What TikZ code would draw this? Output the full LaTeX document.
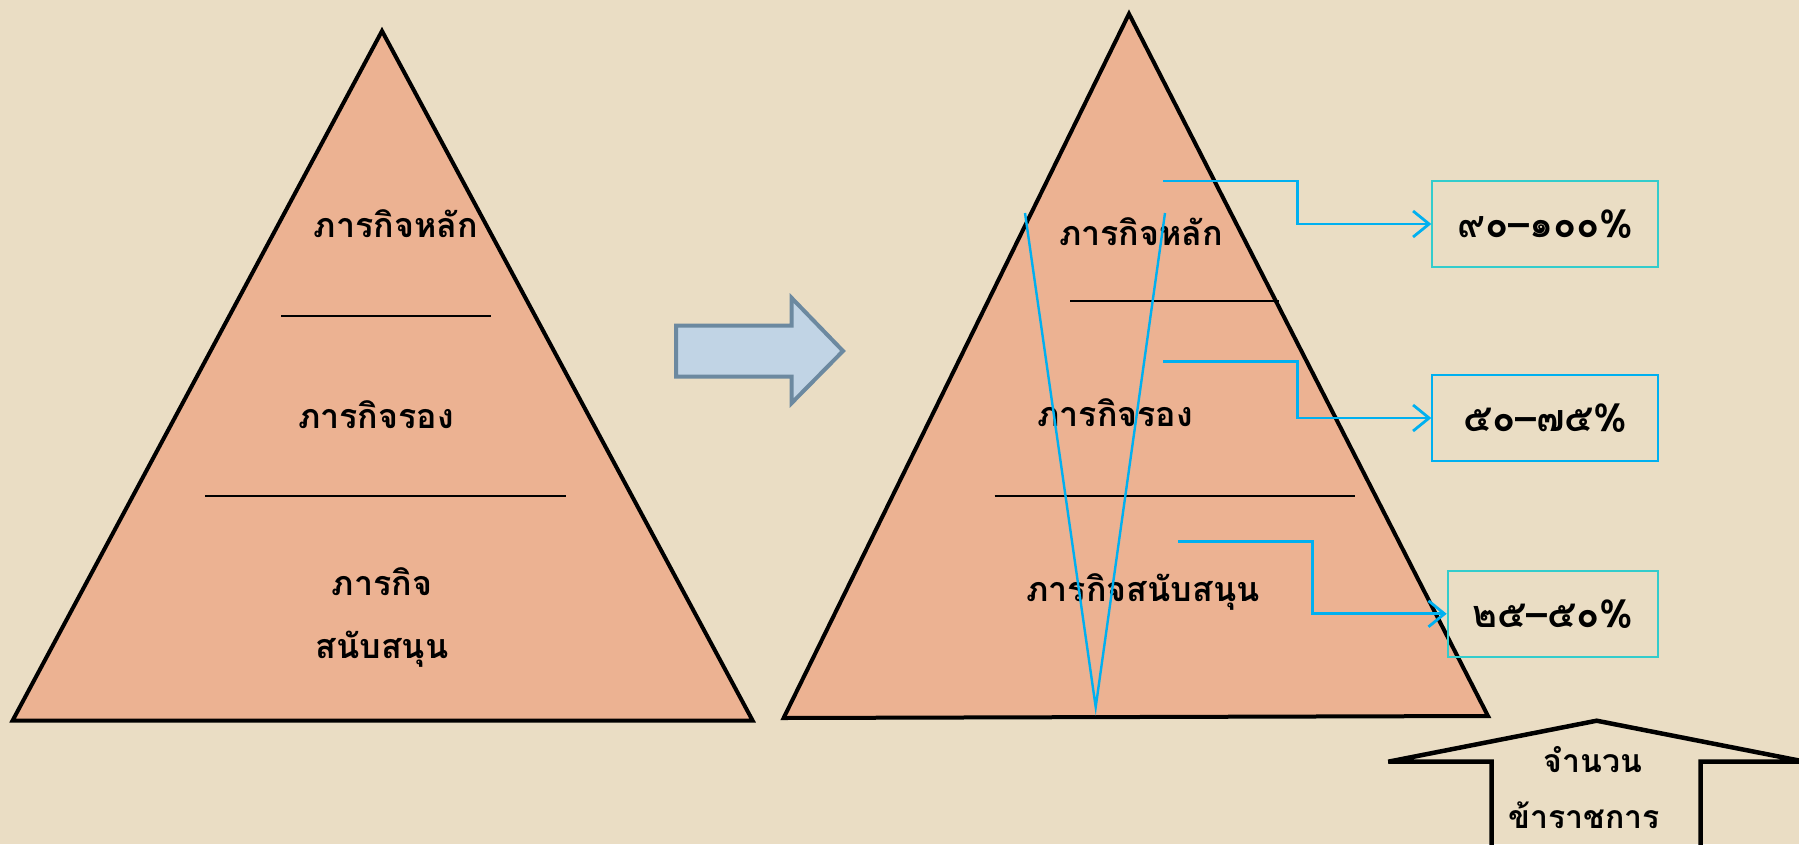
\documentclass[tikz,border=0pt]{standalone}
\usepackage{fontspec}
\newfontfamily\thai[Script=Thai]{Loma}
\usetikzlibrary{arrows.meta}
\definecolor{bg}{RGB}{234,221,196}
\definecolor{trifill}{RGB}{236,178,146}
\definecolor{cy}{RGB}{51,204,204}
\definecolor{bl}{RGB}{0,176,240}
\definecolor{arrf}{RGB}{193,212,229}
\definecolor{arrd}{RGB}{108,137,160}
\begin{document}
\begin{tikzpicture}[x=1pt,y=-1pt,
  tri/.style={fill=trifill,draw=black,line width=4pt,line join=miter},
  div/.style={draw=black,line width=2pt},
  lbl/.style={font=\thai\bfseries\fontsize{34}{63}\selectfont,inner sep=0pt,align=center},
  sml/.style={font=\thai\bfseries\fontsize{32}{40}\selectfont,inner sep=0pt},
  pct/.style={draw,line width=2pt,minimum height=86pt,inner sep=0pt,font=\thai\bfseries\fontsize{38}{40}\selectfont},
  conn/.style={draw=bl,line width=2.8pt,-{Straight Barb[length=16pt,width=26pt,line width=2.8pt]}},
  vline/.style={draw=bl,line width=2.4pt},
  bigarrow/.style={fill=arrf,draw=arrd,line width=4pt,line join=miter}
]
\useasboundingbox (0,0) rectangle (1799,844);
\clip (0,0) rectangle (1799,844);
\fill[bg] (0,0) rectangle (1799,844);

% left triangle
\coordinate (La) at (382,31);
\coordinate (Lb) at (12.6,720.5);
\coordinate (Lc) at (752.6,720.5);
\draw[tri] (La) -- (Lb) -- (Lc) -- cycle;
\coordinate (L1a) at (281,315.5); \coordinate (L1b) at (491,315.5);
\coordinate (L2a) at (205,495.6); \coordinate (L2b) at (565.6,495.6);
\draw[div] (L1a) -- (L1b);
\draw[div] (L2a) -- (L2b);
\node[lbl] (lt1) at (396,224) {ภารกิจหลัก};
\node[lbl] (lt2) at (376,415) {ภารกิจรอง};
\node[lbl] (lt3) at (382,617) {ภารกิจ\\สนับสนุน};

% middle arrow
\draw[bigarrow] (676,325.7) -- (791.7,325.7) -- (791.7,298) -- (843,351) -- (791.7,403) -- (791.7,376.7) -- (676,376.7) -- cycle;

% right triangle
\coordinate (Ra) at (1129,13.8);
\coordinate (Rb) at (783.6,718);
\coordinate (Rc) at (1488,716);
\draw[tri] (Ra) -- (Rb) -- (Rc) -- cycle;
\coordinate (R1a) at (1070,300.6); \coordinate (R1b) at (1279,300.6);
\coordinate (R2a) at (994.7,495.6); \coordinate (R2b) at (1355,495.6);
\draw[div] (R1a) -- (R1b);
\draw[div] (R2a) -- (R2b);
\node[lbl] (rt1) at (1141,232) {ภารกิจหลัก};
\node[lbl] (rt2) at (1115,413) {ภารกิจรอง};
\node[lbl] (rt3) at (1143,592) {ภารกิจสนับสนุน};

% blue V
\coordinate (V1) at (1025,213);
\coordinate (V2) at (1095.7,707);
\coordinate (V3) at (1165,213);
\draw[vline] (V1) -- (V2) -- (V3);

% percentage boxes
\node[pct,draw=cy,minimum width=226pt] (p1) at (1545.3,224) {๙๐–๑๐๐\%};
\node[pct,draw=bl,minimum width=226pt] (p2) at (1545.3,418) {๕๐–๗๕\%};
\node[pct,draw=cy,minimum width=210.6pt] (p3) at (1553,613.8) {๒๕–๕๐\%};

% connectors
\coordinate (c1) at (1163,181);
\coordinate (c2) at (1163,361.4);
\coordinate (c3) at (1178,541.5);
\draw[conn] (c1) -- (1297.6,181) |- (p1.west);
\draw[conn] (c2) -- (1297.6,361.4) |- (p2.west);
\draw[conn] (c3) -- (1312.5,541.5) |- (p3.west);

% bottom up arrow
\draw[line width=4.5pt,line join=miter] (1491.7,900) -- (1491.7,761.7) -- (1388.3,761.7) -- (1596.7,720.7) -- (1805,761.7) -- (1700.7,761.7) -- (1700.7,900);
\node[sml] (na) at (1593,760) {จำนวน};
\node[sml] (nb) at (1584,815) {ข้าราชการ};
\end{tikzpicture}
\end{document}
